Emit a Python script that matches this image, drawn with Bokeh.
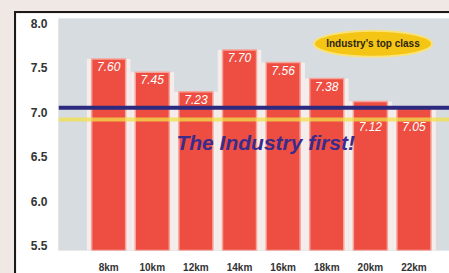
import numpy as np
from bokeh.plotting import figure
from bokeh.models import Span, FixedTicker, ColumnDataSource
from bokeh.core.properties import value
from bokeh.embed import file_html
from bokeh.resources import INLINE

categories = ["8km", "10km", "12km", "14km", "16km", "18km", "20km", "22km"]
values = [7.60, 7.45, 7.23, 7.70, 7.56, 7.38, 7.12, 7.05]
value_labels = ["7.60", "7.45", "7.23", "7.70", "7.56", "7.38", "7.12", "7.05"]
y_ticks = [5.5, 6.0, 6.5, 7.0, 7.5, 8.0]
reference_level = 7.0
headline = "The Industry first!"
badge = "Industry's top class"

xs = np.arange(len(categories))
vals = np.array(values)
label_y = np.where(vals > 7.2, vals, reference_level - 0.07)

src = ColumnDataSource(dict(x=xs, top=vals, lab=value_labels, ly=label_y))

p = figure(width=435, height=262, output_backend="svg", toolbar_location=None,
           x_range=(-1.15, 7.86), y_range=(5.445, 8.055),
           min_border_left=42, min_border_right=0, min_border_top=5, min_border_bottom=18)
p.styles = {"margin-left": "14px", "margin-top": "11px",
            "border-left": "2px solid #1a1a1a", "border-top": "2px solid #1a1a1a"}
p.background_fill_color = "#d7dce0"
p.border_fill_color = "#ffffff"
p.outline_line_color = None
p.grid.grid_line_color = None

# halo behind bars
p.vbar(x="x", top="top", bottom=5.3, width=1.0, source=src,
       fill_color="#f8eeec", fill_alpha=0.9, line_color=None)
# bars
p.vbar(x="x", top="top", bottom=5.3, width=0.78, source=src,
       fill_color="#ee4e42", line_color="#f6a39a", line_width=1.5)

# reference lines
p.add_layout(Span(location=reference_level - 0.08, dimension="width",
                  line_color="#f2e04a", line_alpha=0.75, line_width=4))
p.add_layout(Span(location=reference_level + 0.05, dimension="width",
                  line_color="#2c2a7e", line_width=4))

# value labels
p.text(x="x", y="ly", text="lab", source=src, text_color="#ffffff",
       text_font=value("Liberation Sans"), text_font_style="italic",
       text_font_size="12px", text_align="center", text_baseline="top", y_offset=3)

# headline
p.text(x=[3.60], y=[6.66], text=[headline], text_color="#3a2b8c",
       text_font=value("Liberation Sans"), text_font_style="bold italic",
       text_font_size="21px", text_align="center", text_baseline="middle")

# badge
p.ellipse(x=[6.06], y=[7.77], width=118, height=26, width_units="screen",
          height_units="screen", fill_color="#f4c514", line_color="#f8e27a", line_width=2)
p.text(x=[6.06], y=[7.77], text=[badge], text_color="#2e2610",
       text_font=value("Liberation Sans"), text_font_style="bold",
       text_font_size="10px", text_align="center", text_baseline="middle")

# axes
p.yaxis.ticker = FixedTicker(ticks=y_ticks)
p.yaxis.major_label_overrides = {t: f"{t:.1f}" for t in y_ticks}
p.xaxis.ticker = FixedTicker(ticks=list(xs))
p.xaxis.major_label_overrides = {int(i): c for i, c in zip(xs, categories)}
for ax in (p.xaxis[0], p.yaxis[0]):
    ax.axis_line_color = None
    ax.major_tick_line_color = None
    ax.minor_tick_line_color = None
    ax.major_label_text_font = "Liberation Sans"
    ax.major_label_text_font_style = "bold"
    ax.major_label_text_color = "#333333"
    ax.major_label_standoff = 5
p.yaxis.major_label_text_font_size = "12px"
p.xaxis.major_label_text_font_size = "10px"

html = file_html(p, INLINE)
html = html.replace("<head>", "<head><style>html,body{background:#efe8e5;}</style>", 1)
open("out.html", "w").write(html)
